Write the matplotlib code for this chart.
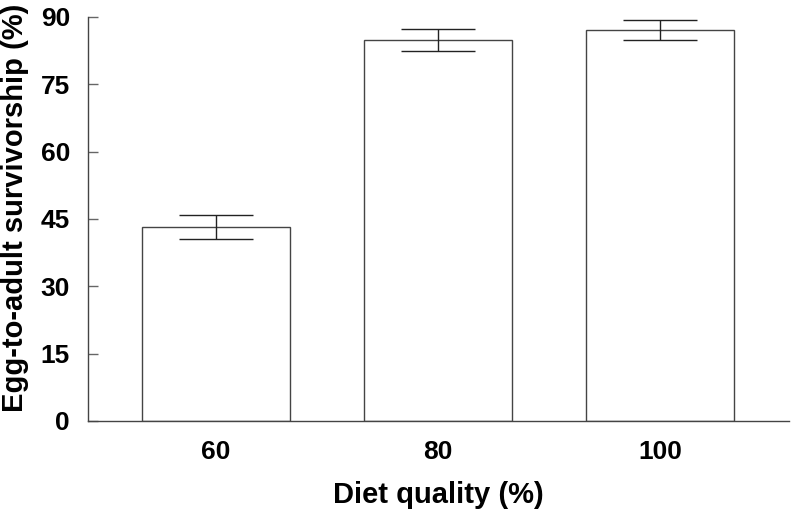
import matplotlib
matplotlib.use('Agg')
import matplotlib.pyplot as plt

diet = ['60', '80', '100']
survival = [43.2, 84.9, 87.1]
sem = [2.7, 2.45, 2.3]

plt.rcParams['font.family'] = ['Liberation Sans', 'DejaVu Sans']
plt.rcParams['font.weight'] = 'bold'

fig = plt.figure(figsize=(7.93, 5.12), dpi=100)
ax = fig.add_axes([88 / 793, 91 / 512, (789 - 88) / 793, (421 - 17) / 512])

pos = range(len(diet))
ax.bar(pos, survival, width=2 / 3, color='white', edgecolor='#444444', linewidth=1.0)
ax.errorbar(pos, survival, yerr=sem, fmt='none', ecolor='#222222', elinewidth=1.0,
            capsize=26.5, capthick=1.0)

ax.set_xlim(-0.577, 2.581)
ax.set_ylim(0, 90)
ax.set_yticks(range(0, 91, 15))
ax.set_xticks(list(pos))
ax.set_xticklabels(diet)

for s in ['top', 'right']:
    ax.spines[s].set_visible(False)
for s in ['left', 'bottom']:
    ax.spines[s].set_color('#444444')
    ax.spines[s].set_linewidth(1.0)

ax.tick_params(axis='y', direction='in', length=7, width=1, color='#666666',
               labelsize=19, pad=13)
ax.tick_params(axis='x', length=0, labelsize=19, pad=14)

ax.set_xlabel('Diet quality (%)', fontsize=21, fontweight='bold', labelpad=12)
ax.set_ylabel('Egg-to-adult survivorship (%)', fontsize=21, fontweight='bold')
ax.yaxis.set_label_coords(-0.084, 0.528)

fig.savefig('out.png', dpi=100)
